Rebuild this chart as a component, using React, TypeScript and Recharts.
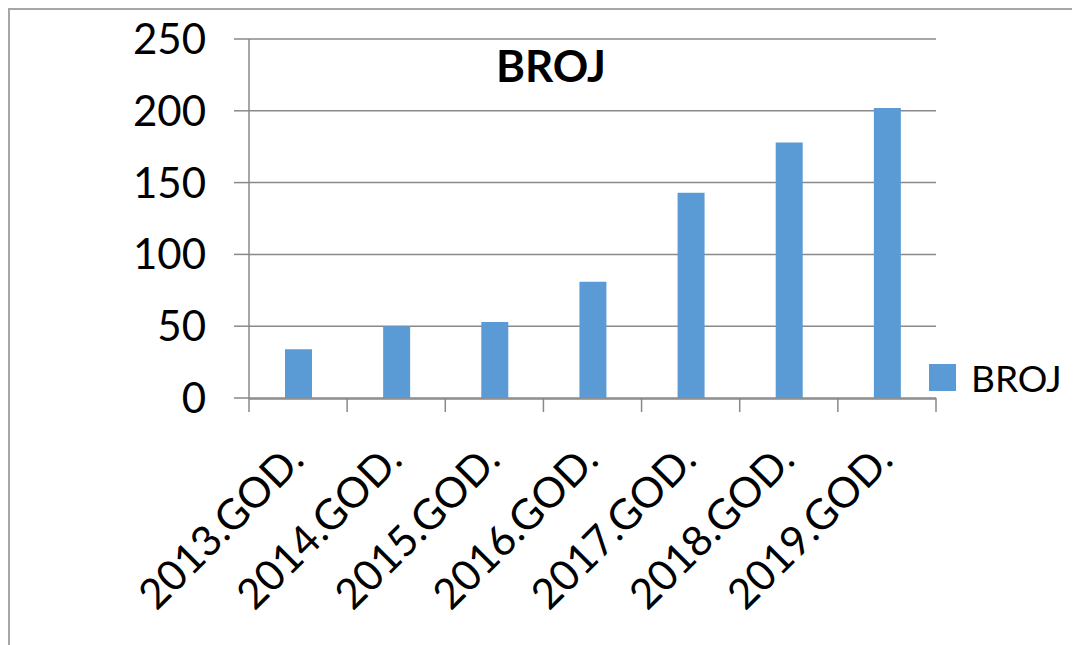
import React from 'react';
import { BarChart, Bar, XAxis, YAxis, CartesianGrid, Legend } from 'recharts';

const categories = ['2013.GOD.', '2014.GOD.', '2015.GOD.', '2016.GOD.', '2017.GOD.', '2018.GOD.', '2019.GOD.'];
const values = [34, 50, 53, 81, 143, 178, 202];
const yTicks = [0, 50, 100, 150, 200, 250];
const seriesName = 'BROJ';
const title = 'BROJ';

const data = categories.map((name, i) => ({ name, broj: values[i], slot: i + 0.5 }));
// tick marks sit between categories, like Excel
const boundaryTicks = [...categories.map((_, i) => i), categories.length];

const GRAY = '#898989';
const FONT = 'Lato, "Open Sans", sans-serif';

const XTick = ({ x, y, payload }: any) => (
  <g transform={`translate(${x + 8},${y + 63})`}>
    <text textAnchor="end" transform="rotate(-45)" fontFamily={FONT} fontSize={42} fill="#000">
      {payload.value}
    </text>
  </g>
);

const NoLabel = () => <g />;

const renderLegend = ({ payload }: any) => (
  <div style={{ fontFamily: FONT }}>
    {(payload || []).map((entry: any) => (
      <div key={entry.value} style={{ display: 'flex', alignItems: 'center' }}>
        <span style={{ width: 27, height: 27, background: entry.color, display: 'inline-block' }} />
        <span style={{ marginLeft: 15, fontSize: 37, lineHeight: '27px', color: '#000' }}>{entry.value}</span>
      </div>
    ))}
  </div>
);

const App: React.FC = () => {
  return (
    <div style={{ position: 'relative', width: 1072, height: 637, fontFamily: FONT }}>
      <div style={{ position: 'absolute', left: 0, top: 0, width: 1072, height: 2, background: '#a6a6a6' }} />
      <div style={{ position: 'absolute', left: 0, top: 0, width: 2, height: 637, background: '#a6a6a6' }} />
      <div
        style={{
          position: 'absolute',
          left: 543,
          top: 35,
          transform: 'translateX(-50%)',
          fontSize: 44,
          fontWeight: 700,
          lineHeight: 1,
          color: '#000',
          zIndex: 2,
        }}
      >
        {title}
      </div>
      <BarChart width={1072} height={637} data={data} margin={{ top: 31, right: 144, left: 0, bottom: 0 }}>
        <CartesianGrid xAxisId="cat" horizontal vertical={false} stroke={GRAY} strokeWidth={1.5} />
        <XAxis
          xAxisId="bounds"
          type="number"
          dataKey="slot"
          domain={[0, categories.length]}
          allowDataOverflow
          ticks={boundaryTicks}
          interval={0}
          tick={<NoLabel />}
          tickSize={14}
          tickLine={{ stroke: GRAY, strokeWidth: 1.5 }}
          axisLine={false}
          height={1}
        />
        <XAxis
          xAxisId="cat"
          dataKey="name"
          interval={0}
          tickLine={false}
          tickSize={0}
          tickMargin={0}
          tick={<XTick />}
          axisLine={{ stroke: GRAY, strokeWidth: 1.5 }}
          height={246}
        />
        <YAxis
          domain={[0, 250]}
          ticks={yTicks}
          interval={0}
          width={241}
          tickSize={15}
          tickMargin={28}
          tick={{ fill: '#000', fontSize: 42, fontFamily: FONT }}
          axisLine={{ stroke: GRAY, strokeWidth: 1.5 }}
          tickLine={{ stroke: GRAY, strokeWidth: 1.5 }}
        />
        <Legend
          layout="vertical"
          align="center"
          verticalAlign="middle"
          wrapperStyle={{ left: 921, top: 356 }}
          content={renderLegend}
        />
        <Bar
          xAxisId="cat"
          dataKey="broj"
          name={seriesName}
          fill="#5b9bd5"
          barSize={27}
          isAnimationActive={false}
        />
      </BarChart>
    </div>
  );
};

export default App;
